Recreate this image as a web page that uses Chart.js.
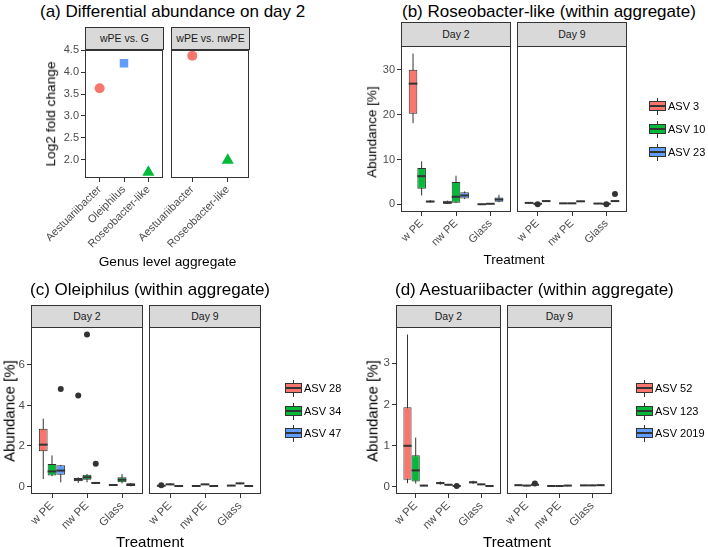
<!DOCTYPE html>
<html>
<head>
<meta charset="utf-8">
<script src="https://cdn.jsdelivr.net/npm/chart.js@4.4.0/dist/chart.umd.min.js"></script>
<style>
  html, body { margin: 0; padding: 0; background: #fff; }
  #fig { position: relative; width: 708px; height: 547px; overflow: hidden; font-family: 'Liberation Sans', Arial, sans-serif; }
  #fig canvas { position: absolute; }
  .t { position: absolute; white-space: nowrap; line-height: 1; font-weight: normal; color: #000; }
  .strip { position: absolute; box-sizing: border-box; background: #d9d9d9; border: 1px solid #333; color: #1a1a1a; font-size: 10.5px; text-align: center; }
  .key { position: absolute; width: 17px; height: 17px; }
  .key .wh { position: absolute; left: 8px; top: 0; width: 1px; height: 17px; background: #333; }
  .key .bx { position: absolute; left: 0; top: 3.5px; width: 17px; height: 10px; box-sizing: border-box; border: 1px solid #333; }
  .key .md { position: absolute; left: 0; top: 7.75px; width: 17px; height: 1.5px; background: #333; }
</style>
</head>
<body>
<div id="fig"></div>
<script>
// (a) log2 fold change of genus level aggregates on day 2
const daComparisons = ['wPE vs. G', 'wPE vs. nwPE'];
const daGeneraG = ['Aestuariibacter', 'Oleiphilus', 'Roseobacter-like'];
const daLfcG = [3.63, 4.20, 1.72];
const daGeneraNw = ['Aestuariibacter', 'Roseobacter-like'];
const daLfcNw = [4.37, 1.99];
const daTicks = [2.0, 2.5, 3.0, 3.5, 4.0, 4.5];

// box plots: one row per ASV, per treatment [lower whisker, Q1, median, Q3, upper whisker]
const treatments = ['w PE', 'nw PE', 'Glass'];
const days = ['Day 2', 'Day 9'];

// (b) Roseobacter-like
const roseoAsv = ['ASV 3', 'ASV 10', 'ASV 23'];
const roseoDay2 = [
  [[18.1, 20.2, 26.9, 30.0, 33.6], [0.1, 0.15, 0.4, 0.8, 0.85], [0.0, 0.02, 0.05, 0.1, 0.12]],
  [[2.0, 3.5, 6.3, 8.1, 9.6], [0.3, 0.4, 1.7, 5.0, 6.4], [0.08, 0.1, 0.15, 0.2, 0.22]],
  [[0.4, 0.5, 0.65, 0.85, 1.0], [1.2, 1.3, 2.0, 2.7, 2.9], [0.5, 0.6, 1.1, 1.55, 2.15]]
];
const roseoDay9 = [
  [[0.2, 0.25, 0.35, 0.4, 0.45], [0.15, 0.2, 0.25, 0.3, 0.35], [0.1, 0.15, 0.2, 0.25, 0.3]],
  [[0.05, 0.1, 0.15, 0.2, 0.25], [0.15, 0.2, 0.25, 0.3, 0.35], [0.05, 0.1, 0.15, 0.2, 0.25]],
  [[0.6, 0.65, 0.75, 0.85, 0.9], [0.55, 0.6, 0.7, 0.8, 0.85], [0.6, 0.65, 0.75, 0.85, 0.9]]
];
// outliers: [asv, treatment, value]
const roseoOut2 = [];
const roseoOut9 = [[1, 0, 0.02], [1, 2, 0.05], [2, 2, 2.35]];
const roseoTicks = [0, 10, 20, 30];

// (c) Oleiphilus
const oleiAsv = ['ASV 28', 'ASV 34', 'ASV 47'];
const oleiDay2 = [
  [[0.36, 1.73, 2.06, 2.85, 3.34], [0.17, 0.25, 0.33, 0.41, 0.45], [0.03, 0.05, 0.07, 0.1, 0.12]],
  [[0.5, 0.54, 0.74, 1.1, 1.53], [0.2, 0.33, 0.45, 0.58, 0.62], [0.15, 0.2, 0.33, 0.45, 0.61]],
  [[0.2, 0.58, 0.78, 1.04, 1.06], [0.12, 0.14, 0.17, 0.2, 0.22], [0.0, 0.02, 0.08, 0.15, 0.17]]
];
const oleiDay9 = [
  [[0.0, 0.01, 0.03, 0.05, 0.07], [0.0, 0.01, 0.02, 0.03, 0.04], [0.01, 0.02, 0.04, 0.06, 0.08]],
  [[0.06, 0.08, 0.1, 0.13, 0.16], [0.07, 0.09, 0.1, 0.11, 0.13], [0.1, 0.12, 0.15, 0.17, 0.2]],
  [[0.0, 0.01, 0.02, 0.03, 0.04], [0.0, 0.01, 0.02, 0.03, 0.04], [0.0, 0.01, 0.02, 0.03, 0.04]]
];
const oleiOut2 = [[0, 1, 4.48], [1, 1, 7.49], [2, 0, 4.81], [2, 1, 1.12]];
const oleiOut9 = [[0, 0, 0.06]];
const oleiTicks = [0, 2, 4, 6];

// (d) Aestuariibacter
const aestAsv = ['ASV 52', 'ASV 123', 'ASV 2019'];
const aestDay2 = [
  [[0.08, 0.16, 0.99, 1.93, 3.7], [0.04, 0.06, 0.08, 0.1, 0.12], [0.06, 0.08, 0.1, 0.12, 0.14]],
  [[0.07, 0.12, 0.39, 0.76, 1.19], [0.02, 0.03, 0.04, 0.05, 0.06], [0.03, 0.04, 0.05, 0.06, 0.07]],
  [[0.0, 0.01, 0.02, 0.03, 0.04], [0.0, 0.0, 0.01, 0.02, 0.03], [0.0, 0.0, 0.01, 0.02, 0.03]]
];
const aestDay9 = [
  [[0.01, 0.02, 0.03, 0.04, 0.05], [0.0, 0.005, 0.01, 0.015, 0.02], [0.01, 0.02, 0.025, 0.03, 0.04]],
  [[0.0, 0.01, 0.02, 0.03, 0.04], [0.0, 0.005, 0.01, 0.015, 0.02], [0.01, 0.02, 0.025, 0.03, 0.04]],
  [[0.02, 0.03, 0.04, 0.05, 0.06], [0.0, 0.01, 0.02, 0.03, 0.04], [0.01, 0.02, 0.03, 0.04, 0.05]]
];
const aestOut2 = [[2, 1, 0.01]];
const aestOut9 = [[2, 0, 0.07]];
const aestTicks = [0, 1, 2, 3];

const asvColors = ['#F8766D', '#00BA38', '#619CFF'];
const genusStyle = {
  'Aestuariibacter': { color: '#F8766D', shape: 'circle', r: 5 },
  'Oleiphilus': { color: '#619CFF', shape: 'rect', r: 6 },
  'Roseobacter-like': { color: '#00BA38', shape: 'triangle', r: 7 }
};

Chart.defaults.font.family = "'Liberation Sans', Arial, sans-serif";
const fig = document.getElementById('fig');

// whiskers under the boxes, medians on top
const boxPlugin = {
  id: 'boxParts',
  beforeDatasetsDraw(chart) { drawParts(chart, false); },
  afterDatasetsDraw(chart) { drawParts(chart, true); }
};

function drawParts(chart, median) {
  const ctx = chart.ctx;
  const y = chart.scales.y;
  chart.data.datasets.forEach((ds, di) => {
    if (!ds.stats) return;
    const meta = chart.getDatasetMeta(di);
    ctx.save();
    ctx.strokeStyle = '#333';
    ctx.lineWidth = median ? 2 : 1;
    meta.data.forEach((bar, i) => {
      const s = ds.stats[i];
      ctx.beginPath();
      if (median) {
        ctx.moveTo(bar.x - bar.width / 2, y.getPixelForValue(s[2]));
        ctx.lineTo(bar.x + bar.width / 2, y.getPixelForValue(s[2]));
      } else {
        ctx.moveTo(bar.x, y.getPixelForValue(s[0]));
        ctx.lineTo(bar.x, y.getPixelForValue(s[4]));
      }
      ctx.stroke();
    });
    ctx.restore();
  });
}

const framePlugin = {
  id: 'frame',
  afterDraw(chart) {
    const a = chart.chartArea;
    const ctx = chart.ctx;
    ctx.save();
    ctx.strokeStyle = '#333';
    ctx.lineWidth = 1;
    ctx.strokeRect(a.left + 0.5, a.top + 0.5, a.right - a.left - 1, a.bottom - a.top - 1);
    ctx.restore();
  }
};

function addText(str, x, y, size, how) {
  const d = document.createElement('div');
  d.className = 't';
  d.textContent = str;
  d.style.left = x + 'px';
  d.style.top = y + 'px';
  d.style.fontSize = size + 'px';
  if (how === 'rot') d.style.transform = 'translate(-50%, -50%) rotate(-90deg)';
  else if (how === 'left') d.style.transform = 'translateY(-50%)';
  else d.style.transform = 'translate(-50%, -50%)';
  fig.appendChild(d);
}

function addStrip(str, area, top) {
  const d = document.createElement('div');
  d.className = 'strip';
  d.textContent = str;
  d.style.left = area.l + 'px';
  d.style.top = top + 'px';
  d.style.width = (area.r - area.l) + 'px';
  d.style.height = (area.t - top + 1) + 'px';
  d.style.lineHeight = (area.t - top - 1) + 'px';
  fig.appendChild(d);
}

function expand(values) {
  const lo = Math.min(...values), hi = Math.max(...values);
  const pad = (hi - lo) * 0.05;
  return [lo - pad, hi + pad];
}

function makeFacet(area, o) {
  const pad = 6;
  // the y axis keeps its width in the layout even when hidden
  const yw = o.showY ? Math.min(40, area.l) : o.leftRoom;
  const left = area.l - yw, top = area.t - pad;
  const w = area.r + pad - left, h = area.b + o.xh - top;
  const cv = document.createElement('canvas');
  cv.width = w; cv.height = h;
  cv.style.left = left + 'px'; cv.style.top = top + 'px';
  cv.style.width = w + 'px'; cv.style.height = h + 'px';
  fig.appendChild(cv);

  new Chart(cv, {
    type: o.type,
    data: { datasets: o.datasets },
    options: {
      responsive: false,
      animation: false,
      devicePixelRatio: 1,
      events: [],
      layout: { padding: { left: 0, top: pad, right: pad, bottom: 0 } },
      plugins: { legend: { display: false }, tooltip: { enabled: false } },
      scales: {
        x: {
          type: 'linear', offset: false,
          min: -0.6, max: o.labels.length - 0.4,
          grid: { display: true, offset: false, drawOnChartArea: false, drawTicks: true, tickLength: 4, color: '#333' },
          border: { display: false },
          ticks: {
            autoSkip: false, minRotation: 45, maxRotation: 45, padding: 1,
            color: '#4d4d4d', font: { size: o.xFont },
            callback: v => o.labels[v]
          },
          afterBuildTicks: ax => { ax.ticks = o.labels.map((_, i) => ({ value: i })); },
          afterFit: ax => { ax.height = o.xh; ax.paddingLeft = 0; ax.paddingRight = 0; }
        },
        y: {
          display: o.showY,
          min: o.range[0], max: o.range[1],
          grid: { display: true, drawOnChartArea: false, drawTicks: true, tickLength: 4, color: '#333' },
          border: { display: false },
          ticks: { padding: 2, color: '#4d4d4d', font: { size: o.yFont }, callback: o.fmt },
          afterBuildTicks: ax => { ax.ticks = o.ticks.map(v => ({ value: v })); },
          afterFit: ax => { ax.width = yw; ax.paddingTop = 0; ax.paddingBottom = 0; }
        }
      }
    },
    plugins: [boxPlugin, framePlugin]
  });
}

function boxDatasets(asvs, rows, outs) {
  const n = asvs.length;
  const sets = asvs.map((name, a) => ({
    type: 'bar',
    label: name,
    data: rows[a].map((s, t) => ({ x: t, y: [s[1], s[3]] })),
    stats: rows[a],
    backgroundColor: asvColors[a],
    borderColor: '#333',
    borderWidth: 1,
    borderSkipped: false,
    categoryPercentage: 0.75,
    barPercentage: 1
  }));
  if (outs.length) {
    sets.unshift({
      type: 'scatter',
      label: 'outliers',
      data: outs.map(([a, t, v]) => ({ x: t + (a - (n - 1) / 2) * 0.75 / n, y: v })),
      pointRadius: 3,
      backgroundColor: '#333',
      borderWidth: 0
    });
  }
  return sets;
}

function pointDataset(genera, lfc) {
  return [{
    type: 'scatter',
    data: genera.map((g, i) => ({ x: i, y: lfc[i] })),
    pointStyle: genera.map(g => genusStyle[g].shape),
    pointRadius: genera.map(g => genusStyle[g].r),
    backgroundColor: genera.map(g => genusStyle[g].color),
    borderWidth: 0
  }];
}

// ---- (a)
addText('(a) Differential abundance on day 2', 40, 11, 17, 'left');
const aAreas = [{ l: 85, t: 49, r: 164, b: 178 }, { l: 171, t: 49, r: 250, b: 178 }];
const aRange = expand(daLfcG.concat(daLfcNw));
[[daGeneraG, daLfcG], [daGeneraNw, daLfcNw]].forEach(([genera, lfc], k) => {
  addStrip(daComparisons[k], aAreas[k], 27);
  makeFacet(aAreas[k], {
    type: 'scatter', showY: k === 0, leftRoom: 70, xh: 82, labels: genera, xFont: 11, yFont: 11,
    range: aRange, ticks: daTicks, fmt: v => v.toFixed(1),
    datasets: pointDataset(genera, lfc)
  });
});
addText('Log2 fold change', 51, 114, 13.7, 'rot');
addText('Genus level aggregate', 167.5, 262, 13.7);

// ---- (b), (c), (d)
function boxPanel(p) {
  addText(p.title, p.tx, p.ty, 17, 'left');
  const all = [];
  [p.d2, p.d9].forEach(rows => rows.forEach(r => r.forEach(s => all.push(s[0], s[4]))));
  [p.o2, p.o9].forEach(outs => outs.forEach(o => all.push(o[2])));
  const range = expand(all);
  [[p.d2, p.o2], [p.d9, p.o9]].forEach(([rows, outs], k) => {
    addStrip(days[k], p.areas[k], p.stripTop);
    makeFacet(p.areas[k], {
      type: 'bar', showY: k === 0, leftRoom: 45, xh: 50, labels: treatments, xFont: p.font, yFont: p.font,
      range: range, ticks: p.ticks, fmt: v => String(v),
      datasets: boxDatasets(p.asv, rows, outs)
    });
  });
  addText('Abundance [%]', p.yx, p.yy, p.axisFont, 'rot');
  addText('Treatment', p.xx, p.xy, p.axisFont);
  p.asv.forEach((name, i) => {
    const k = document.createElement('div');
    k.className = 'key';
    k.style.left = p.kx + 'px';
    k.style.top = (p.ky[i] - 8.5) + 'px';
    k.innerHTML = '<div class="wh"></div><div class="bx" style="background:' + asvColors[i] + '"></div><div class="md"></div>';
    fig.appendChild(k);
    addText(name, p.kx + 19, p.ky[i], 11, 'left');
  });
}

boxPanel({
  title: '(b) Roseobacter-like (within aggregate)', tx: 402, ty: 11,
  asv: roseoAsv, d2: roseoDay2, d9: roseoDay9, o2: roseoOut2, o9: roseoOut9, ticks: roseoTicks,
  areas: [{ l: 401, t: 46, r: 511, b: 212 }, { l: 517, t: 46, r: 627, b: 212 }], stripTop: 22,
  font: 11, axisFont: 13.5, yx: 372, yy: 132, xx: 514, xy: 260,
  kx: 649, ky: [106, 129, 152]
});

boxPanel({
  title: '(c) Oleiphilus (within aggregate)', tx: 30, ty: 289,
  asv: oleiAsv, d2: oleiDay2, d9: oleiDay9, o2: oleiOut2, o9: oleiOut9, ticks: oleiTicks,
  areas: [{ l: 31, t: 327, r: 143, b: 494 }, { l: 149, t: 327, r: 261, b: 494 }], stripTop: 305,
  font: 11.5, axisFont: 15, yx: 9, yy: 411, xx: 150, xy: 541,
  kx: 285, ky: [388, 411, 433]
});

boxPanel({
  title: '(d) Aestuariibacter (within aggregate)', tx: 395, ty: 289,
  asv: aestAsv, d2: aestDay2, d9: aestDay9, o2: aestOut2, o9: aestOut9, ticks: aestTicks,
  areas: [{ l: 396, t: 327, r: 501, b: 494 }, { l: 507, t: 327, r: 612, b: 494 }], stripTop: 305,
  font: 11.5, axisFont: 15, yx: 372, yy: 411, xx: 517, xy: 541,
  kx: 636, ky: [388, 411, 433]
});
</script>
</body>
</html>
